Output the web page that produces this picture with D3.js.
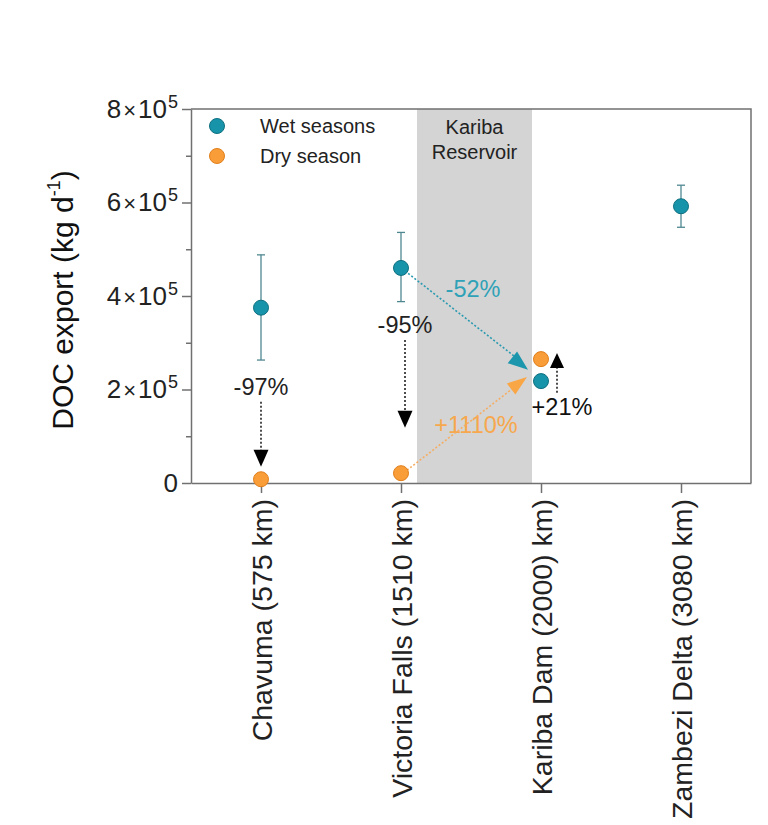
<!DOCTYPE html>
<html>
<head>
<meta charset="utf-8">
<script src="https://cdn.jsdelivr.net/npm/d3@7"></script>
<style>
  html, body { margin: 0; padding: 0; background: #fff; }
  svg { display: block; font-family: "Liberation Sans", Arial, sans-serif; }
</style>
</head>
<body>
<svg id="chart" width="768" height="825"></svg>
<script>
// ---- data ----
const categories = ["Chavuma (575 km)", "Victoria Falls (1510 km)", "Kariba Dam (2000) km)", "Zambezi Delta (3080 km)"];
const wetMean = [375000, 460000, 218000, 592000];
const wetLow  = [263000, 388000, null, 547000];
const wetHigh = [488000, 536000, null, 637000];
const dryMean = [8000, 21000, 265000, null];
const yTicks = [0, 200000, 400000, 600000, 800000];
const yMinorTicks = [100000, 300000, 500000, 700000];
const seriesNames = ["Wet seasons", "Dry season"];
const changeLabels = ["-97%", "-95%", "-52%", "+1110%", "+21%"];

// ---- layout ----
const svg = d3.select("#chart");
const margin = {left: 191, right: 17, top: 109, bottom: 342};
const W = 768, H = 825;
const iw = W - margin.left - margin.right;
const ih = H - margin.top - margin.bottom;
const g = svg.append("g").attr("transform", `translate(${margin.left},${margin.top})`);

const x = d3.scalePoint().domain(categories).range([0, iw]).padding(0.5);
const y = d3.scaleLinear().domain([0, 800000]).range([ih, 0]);

const teal = "#1794aa", tealStroke = "#0f6f80";
const orange = "#f99d38", orangeStroke = "#e07f1c";
const frame = "#707070";

// reservoir band (between Victoria Falls and Kariba Dam)
const xv = x(categories[1]), xk = x(categories[2]);
g.append("rect")
  .attr("x", xv + 16).attr("y", 0)
  .attr("width", (xk - 9) - (xv + 16)).attr("height", ih)
  .attr("fill", "#d4d4d4");
g.append("text").attr("x", (xv + 16 + xk - 9) / 2).attr("y", 25)
  .attr("text-anchor", "middle").attr("font-size", 20).attr("fill", "#222")
  .text("Kariba");
g.append("text").attr("x", (xv + 16 + xk - 9) / 2).attr("y", 50)
  .attr("text-anchor", "middle").attr("font-size", 20).attr("fill", "#222")
  .text("Reservoir");

// frame top/right
g.append("path").attr("d", `M0,0H${iw}V${ih}`).attr("fill", "none")
  .attr("stroke", frame).attr("stroke-width", 1.5);

// y axis
const yAxis = g.append("g").call(d3.axisLeft(y).tickValues(yTicks).tickSize(9).tickSizeOuter(0).tickFormat(d => d));
yAxis.select(".domain").attr("stroke", frame).attr("stroke-width", 1.5);
yAxis.selectAll(".tick line").attr("stroke", frame).attr("stroke-width", 1.5);
yAxis.selectAll(".tick text").attr("font-size", 26).attr("fill", "#222").attr("x", -13)
  .each(function(d) {
    const t = d3.select(this);
    t.text(null);
    if (d === 0) { t.append("tspan").text("0"); return; }
    const m = d / 100000;
    t.append("tspan").text(m);
    t.append("tspan").attr("dx", 2).attr("font-size", 22).text("×");
    t.append("tspan").attr("dx", 2).text("10");
    t.append("tspan").attr("dx", 1).attr("font-size", 18).attr("dy", "-0.55em").text("5");
  });
g.append("g").call(d3.axisLeft(y).tickValues(yMinorTicks).tickSize(5).tickFormat(""))
  .call(s => s.select(".domain").remove())
  .selectAll(".tick line").attr("stroke", frame).attr("stroke-width", 1.5);

// x axis
const xAxis = g.append("g").attr("transform", `translate(0,${ih})`)
  .call(d3.axisBottom(x).tickSize(10).tickSizeOuter(0));
xAxis.select(".domain").attr("stroke", frame).attr("stroke-width", 1.5);
xAxis.selectAll(".tick line").attr("stroke", frame).attr("stroke-width", 1.5);
xAxis.selectAll(".tick text")
  .attr("font-size", 28.5).attr("fill", "#222")
  .attr("transform", "rotate(-90)")
  .attr("text-anchor", "end")
  .attr("x", -16).attr("y", 0).attr("dy", "0.36em").attr("dx", 0);

// y title
const yt = svg.append("text")
  .attr("transform", `translate(73,300) rotate(-90)`)
  .attr("text-anchor", "middle").attr("font-size", 30).attr("fill", "#111");
yt.append("tspan").text("DOC export (kg d");
yt.append("tspan").attr("font-size", 18).attr("dy", "-0.75em").text("-1");
yt.append("tspan").attr("dy", "0.45em").text(")");

// error bars
const eb = g.append("g").attr("stroke", "#4f8791").attr("stroke-width", 1.3);
categories.forEach((c, i) => {
  if (wetLow[i] == null) return;
  const cx = x(c);
  eb.append("line").attr("x1", cx).attr("x2", cx).attr("y1", y(wetLow[i])).attr("y2", y(wetHigh[i]));
  eb.append("line").attr("x1", cx - 4).attr("x2", cx + 4).attr("y1", y(wetLow[i])).attr("y2", y(wetLow[i]));
  eb.append("line").attr("x1", cx - 4).attr("x2", cx + 4).attr("y1", y(wetHigh[i])).attr("y2", y(wetHigh[i]));
});

// arrows helpers
function dotted(x1, y1, x2, y2, color) {
  g.append("line").attr("x1", x1).attr("y1", y1).attr("x2", x2).attr("y2", y2)
    .attr("stroke", color).attr("stroke-width", 1.6).attr("stroke-dasharray", "2,2");
}
function head(tx, ty, fx, fy, color, len, wid) {
  const a = Math.atan2(ty - fy, tx - fx);
  const bx = tx - len * Math.cos(a), by = ty - len * Math.sin(a);
  const px = -Math.sin(a) * wid / 2, py = Math.cos(a) * wid / 2;
  g.append("path").attr("d", `M${tx},${ty}L${bx + px},${by + py}L${bx - px},${by - py}Z`)
    .attr("fill", color);
}
function label(tx, ty, text, color) {
  g.append("text").attr("x", tx).attr("y", ty).attr("text-anchor", "middle")
    .attr("dy", "0.36em").attr("font-size", 23.5).attr("fill", color).text(text);
}

const xc = x(categories[0]), xz = x(categories[3]);
// -97%
label(xc, y(206000), changeLabels[0], "#222");
dotted(xc, y(174000), xc, y(52000), "#222");
head(xc, y(35000), xc, y(100000), "#000", 17, 15);
// -95%
label(xv + 4, y(338000), changeLabels[1], "#222");
dotted(xv + 4, y(306000), xv + 4, y(136000), "#222");
head(xv + 4, y(118000), xv + 4, y(200000), "#000", 17, 15);
// -52%
label((xv + xk) / 2 + 2, y(415000), changeLabels[2], "#2fa2b7");
dotted(xv + 4, y(wetMean[1]) + 3, xk - 20, y(245000) - 7, "#2a9ab0");
head(xk - 13, y(242000), xv, y(wetMean[1]), "#1b96ac", 20, 15);
// +1110%
label((xv + xk) / 2 + 5, y(124000), changeLabels[3], "#f7a74c");
dotted(xv + 6, y(dryMean[1]) - 3, xk - 27, y(215000) + 5, "#f5ad63");
head(xk - 14, y(227000), xv, y(dryMean[1]), "#f9a646", 20, 14);
// +21%
label(xk + 21, y(163000), changeLabels[4], "#111");
dotted(xk + 16, y(193000), xk + 16, y(262000), "#222");
head(xk + 16, y(278000), xk + 16, y(200000), "#000", 15, 14);

// points
const pts = g.append("g");
categories.forEach((c, i) => {
  if (dryMean[i] != null)
    pts.append("circle").attr("cx", x(c)).attr("cy", y(dryMean[i])).attr("r", 7.5)
      .attr("fill", orange).attr("stroke", orangeStroke).attr("stroke-width", 1);
  if (wetMean[i] != null)
    pts.append("circle").attr("cx", x(c)).attr("cy", y(wetMean[i])).attr("r", 7.5)
      .attr("fill", teal).attr("stroke", tealStroke).attr("stroke-width", 1);
});

// legend
const lg = g.append("g").attr("transform", "translate(26,17)");
[teal, orange].forEach((col, i) => {
  lg.append("circle").attr("cx", 0).attr("cy", i * 30).attr("r", 7.5)
    .attr("fill", col).attr("stroke", i ? orangeStroke : tealStroke).attr("stroke-width", 1);
  lg.append("text").attr("x", 43).attr("y", i * 30).attr("dy", "0.36em")
    .attr("font-size", 20).attr("fill", "#222").text(seriesNames[i]);
});
</script>
</body>
</html>
